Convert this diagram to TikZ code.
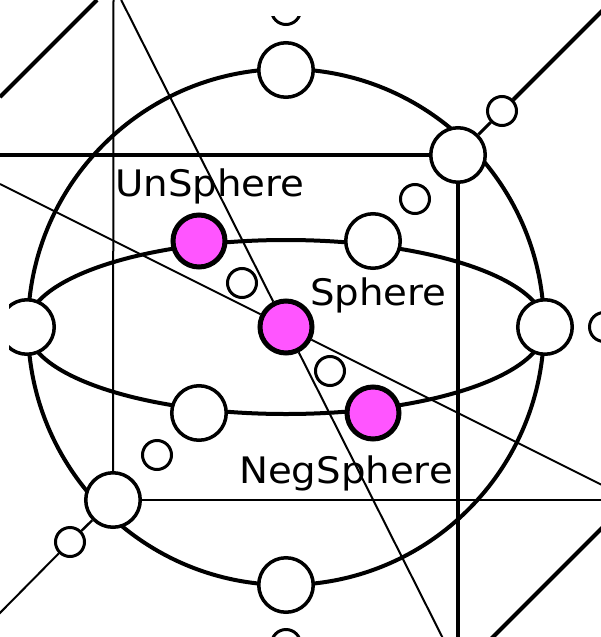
\documentclass[tikz,border=0pt]{standalone}
\usepackage{fontspec}
\setmainfont{DejaVu Sans}[FakeStretch=1.06]
\usetikzlibrary{backgrounds}
\definecolor{mag}{RGB}{255,85,255}
\begin{document}
\begin{tikzpicture}[x=1pt,y=-1pt,
  bignode/.style={circle,draw=black,line width=3.5pt,fill=white,minimum size=54.5pt,inner sep=0pt},
  smallnode/.style={circle,draw=black,line width=3pt,fill=white,minimum size=29pt,inner sep=0pt},
  magnode/.style={circle,draw=black,line width=5pt,fill=mag,minimum size=52pt,inner sep=0pt},
  heavyline/.style={line width=4pt},
  lightline/.style={line width=2pt},
  lbl/.style={inner sep=0pt,anchor=base west,font=\fontsize{36.5}{40}\selectfont}]
\useasboundingbox (0,0) rectangle (601,637);
\clip (9,16) rectangle (601,637);
\coordinate (C) at (286,327);
% free ends
\coordinate (hW) at (0,155);
\coordinate (vS) at (458,650);
\coordinate (vN) at (113.5,0);
\coordinate (hE) at (610,500);
\coordinate (dNE) at (620,-7);
\coordinate (dSW) at (-7,620);
\coordinate (tl1) at (0,97);
\coordinate (tl2) at (97,0);
\coordinate (br1) at (480,650);
\coordinate (br2) at (610,520);
\coordinate (sA) at (121.2,0);
\coordinate (sB) at (448.8,650);
\coordinate (hA) at (0,184);
\coordinate (hB) at (610,489);
% nodes
\node[bignode] (top) at (286,70) {};
\node[bignode] (bot) at (286,585) {};
\node[bignode] (lft) at (27,327) {};
\node[bignode] (rgt) at (545,327) {};
\node[smallnode] (otop) at (286,10) {};
\node[smallnode] (obot) at (286,644) {};
\node[smallnode] (orgt) at (604,327) {};
\node[bignode] (NE) at (458,155) {};
\node[bignode] (SW) at (113,500) {};
\node[smallnode] (NEs) at (502,111) {};
\node[smallnode] (SWs) at (70,542) {};
\node[bignode] (et) at (373,241) {};
\node[bignode] (eb) at (199,413) {};
\node[smallnode] (i1) at (242,283) {};
\node[smallnode] (i2) at (330,371) {};
\node[smallnode] (i3) at (415,199) {};
\node[smallnode] (i4) at (157,455) {};
\node[magnode] (un) at (199,241) {};
\node[magnode] (neg) at (373,413) {};
\node[magnode] (sph) at (286,327) {};
\node[lbl] (lun) at (115,196) {UnSphere};
\node[lbl] (lsph) at (310,305) {Sphere};
\node[lbl] (lneg) at (239,483) {NegSphere};
\begin{scope}[on background layer]
  \draw[heavyline] (hW) -- (NE);
  \draw[line width=4.5pt] (NE) -- (vS);
  \draw[lightline] (vN) -- (SW);
  \draw[line width=1.6pt] (SW) -- (hE);
  \draw[line width=3pt] (NE) -- (NEs);
  \draw[heavyline] (NEs) -- (dNE);
  \draw[line width=2.4pt] (SW) -- (SWs);
  \draw[lightline] (SWs) -- (dSW);
  \draw[heavyline] (tl1) -- (tl2);
  \draw[heavyline] (br1) -- (br2);
  \draw[lightline] (sA) -- (sph) -- (sB);
  \draw[lightline] (hA) -- (sph) -- (hB);
  \draw[heavyline] (C) circle[radius=258];
  \draw[heavyline] (C) ellipse[x radius=259, y radius=87];
\end{scope}
\end{tikzpicture}
\end{document}
